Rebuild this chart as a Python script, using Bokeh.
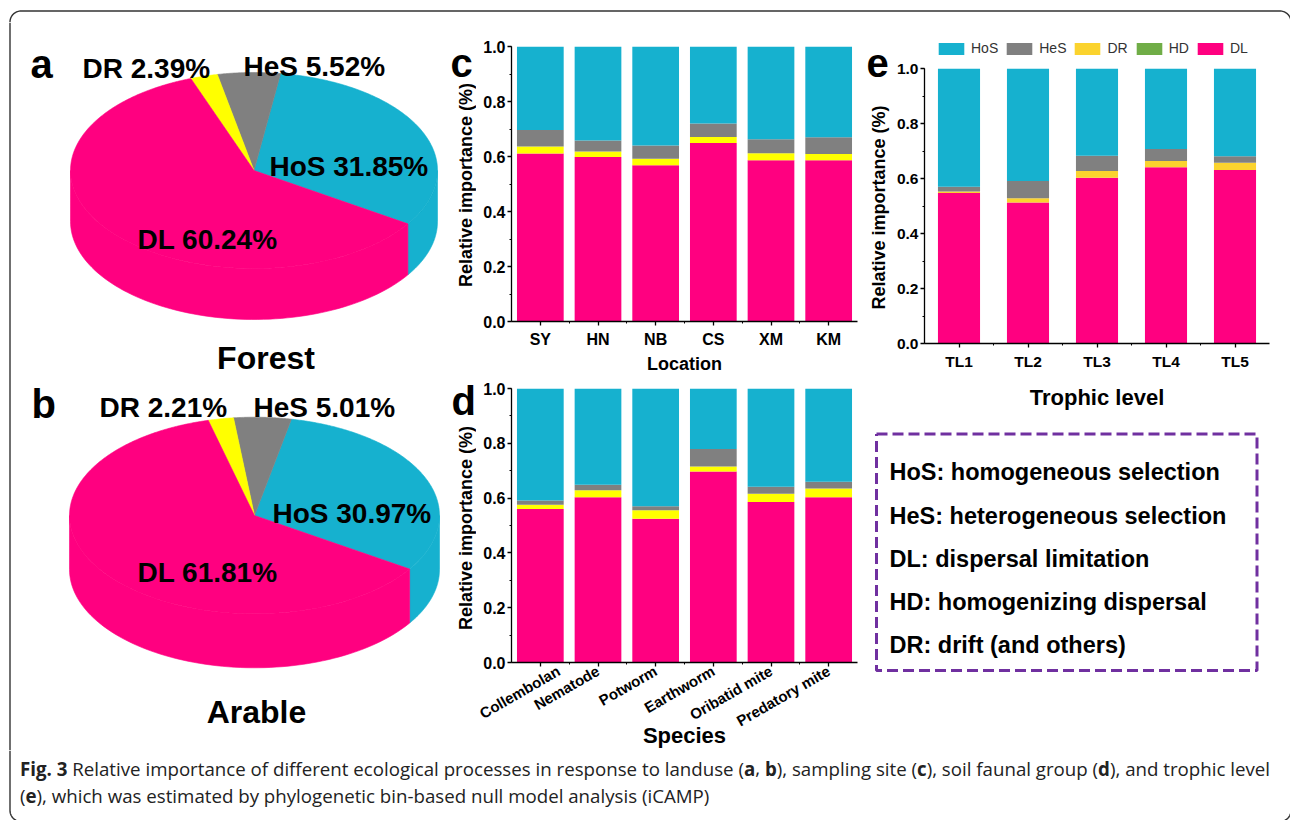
import glob
import math
import os
import subprocess

import numpy as np
from bokeh.core.properties import value
from bokeh.embed import file_html
from bokeh.layouts import column, row
from bokeh.models import (ColumnDataSource, FixedTicker, Legend, LegendItem,
                          NumeralTickFormatter, Range1d, SingleIntervalTicker)
from bokeh.plotting import figure
from bokeh.resources import INLINE

# ---------------------------------------------------------------- data
processes = ["DL", "DR", "HD", "HeS", "HoS"]          # stacking order, bottom to top

pie_names = ["HoS", "HeS", "DR", "DL"]                # counter-clockwise order
forest_pct = [31.85, 5.52, 2.39, 60.24]
arable_pct = [30.97, 5.01, 2.21, 61.81]

locations = ["SY", "HN", "NB", "CS", "XM", "KM"]
loc_DL = [0.611, 0.598, 0.568, 0.649, 0.586, 0.586]
loc_DR = [0.025, 0.020, 0.024, 0.022, 0.026, 0.023]
loc_HD = [0.0, 0.0, 0.0, 0.0, 0.0, 0.0]
loc_HeS = [0.060, 0.040, 0.048, 0.049, 0.051, 0.061]
loc_HoS = [0.304, 0.342, 0.360, 0.280, 0.337, 0.330]

species = ["Collembolan", "Nematode", "Potworm", "Earthworm", "Oribatid mite", "Predatory mite"]
sp_DL = [0.560, 0.603, 0.525, 0.697, 0.586, 0.603]
sp_DR = [0.016, 0.026, 0.031, 0.018, 0.030, 0.032]
sp_HD = [0.0, 0.0, 0.0, 0.0, 0.0, 0.0]
sp_HeS = [0.015, 0.020, 0.014, 0.064, 0.025, 0.025]
sp_HoS = [0.409, 0.351, 0.430, 0.221, 0.359, 0.340]

trophic = ["TL1", "TL2", "TL3", "TL4", "TL5"]
tl_DL = [0.547, 0.513, 0.603, 0.641, 0.631]
tl_DR = [0.006, 0.015, 0.024, 0.023, 0.026]
tl_HD = [0.0, 0.0, 0.0, 0.0, 0.0]
tl_HeS = [0.017, 0.063, 0.056, 0.043, 0.024]
tl_HoS = [0.430, 0.409, 0.317, 0.293, 0.319]

legend_order = ["HoS", "HeS", "DR", "HD", "DL"]
glossary = ["HoS: homogeneous selection", "HeS: heterogeneous selection",
            "DL: dispersal limitation", "HD: homogenizing dispersal",
            "DR: drift (and others)"]

Y_TITLE = "Relative importance (%)"

caption_line1 = [("Fig. 3", True),
                 (" Relative importance of different ecological processes in response to landuse (", False),
                 ("a", True), (", ", False), ("b", True), ("), sampling site (", False),
                 ("c", True), ("), soil faunal group (", False), ("d", True),
                 ("), and trophic level", False)]
caption_line2 = [("(", False), ("e", True),
                 ("), which was estimated by phylogenetic bin-based null model analysis (iCAMP)", False)]

# ---------------------------------------------------------------- style
FONT = "Liberation Sans"
PINK = "#FF0080"
BLUE = "#16B1CF"
GRAY = "#808080"
YELLOW = "#FFFF00"
GOLD = "#FBD32E"
GREEN = "#70AD47"
PURPLE = "#7030A0"
FRAME = "#333333"

bar_colors = {"DL": PINK, "DR": YELLOW, "HD": GREEN, "HeS": GRAY, "HoS": BLUE}
bar_colors_e = {"DL": PINK, "DR": GOLD, "HD": GREEN, "HeS": GRAY, "HoS": BLUE}
pie_colors = {"HoS": BLUE, "HeS": GRAY, "DR": YELLOW, "DL": PINK}


def no_align(p):
    if "frame_align" in p.properties():
        p.frame_align = False
    return p


def canvas(width, height, x0, x1, y0, y1):
    """A bare figure whose data units are page pixels (y grows downwards)."""
    p = figure(width=width, height=height, x_range=Range1d(x0, x1), y_range=Range1d(y1, y0),
               toolbar_location=None, output_backend="svg", min_border=0,
               x_axis_location=None, y_axis_location=None)
    p.grid.visible = False
    p.outline_line_color = None
    p.background_fill_color = "white"
    p.border_fill_color = "white"
    return no_align(p)


def bold_text(p, x, y, txt, size, align="left", baseline="alphabetic", angle=0.0):
    p.text(x=[x], y=[y], text=[txt], text_font=value(FONT), text_font_style="bold",
           text_font_size=size, text_baseline=baseline, text_align=align,
           angle=angle, text_color="#000000")


def style_axes(p, tick_size):
    for ax in p.axis:
        ax.axis_line_color = "#000000"
        ax.axis_line_width = 1.3
        ax.major_tick_line_color = "#000000"
        ax.major_tick_line_width = 1.3
        ax.minor_tick_line_color = "#000000"
        ax.minor_tick_line_width = 1.0
        ax.major_tick_in = 0
        ax.major_tick_out = 4
        ax.minor_tick_in = 0
        ax.minor_tick_out = 2
        ax.major_label_text_font = FONT
        ax.major_label_text_font_style = "bold"
        ax.major_label_text_font_size = tick_size
        ax.major_label_text_color = "#000000"
        ax.axis_label_text_font = FONT
        ax.axis_label_text_font_style = "bold"
        ax.axis_label_text_color = "#000000"


def stacked_panel(cats, parts, colors, bar_width, width, height, borders, tick_size):
    n = len(cats)
    xs = [i + 0.5 for i in range(n)]
    data = {"x": xs}
    data.update(parts)
    src = ColumnDataSource(data)
    left, right, top, bottom = borders
    p = figure(width=width, height=height, x_range=Range1d(0, n), y_range=Range1d(0, 1),
               toolbar_location=None, output_backend="svg",
               min_border_left=left, min_border_right=right,
               min_border_top=top, min_border_bottom=bottom)
    no_align(p)
    rs = p.vbar_stack(processes, x="x", width=bar_width, source=src,
                      fill_color=[colors[k] for k in processes], line_color=None)
    p.grid.visible = False
    p.outline_line_color = None
    p.background_fill_color = "white"
    p.border_fill_color = "white"
    p.xaxis.ticker = FixedTicker(ticks=xs, minor_ticks=list(range(1, n)))
    p.xaxis.major_label_overrides = {x: c for x, c in zip(xs, cats)}
    p.yaxis.ticker = SingleIntervalTicker(interval=0.2, num_minor_ticks=2)
    p.yaxis.formatter = NumeralTickFormatter(format="0.0")
    style_axes(p, tick_size)
    p.yaxis.major_label_standoff = 2
    p.xaxis.major_label_standoff = 5
    return p, dict(zip(processes, rs))


# ---------------------------------------------------------------- pies (+ letters / y titles of c, d)
def draw_pie(p, names, pct, cx, cy, rx, ry, depth, start):
    total = float(sum(pct))
    bounds = start + np.concatenate([[0.0], np.cumsum(pct)]) / total * 360.0
    # side wall (front half of the disc)
    for i, name in enumerate(names):
        a0, a1 = bounds[i], bounds[i + 1]
        for lo, hi in [(-180.0, 0.0), (180.0, 360.0), (540.0, 720.0)]:
            s, e = max(a0, lo), min(a1, hi)
            if e > s:
                t = np.radians(np.linspace(s, e, 80))
                xt = cx + rx * np.cos(t)
                yt = cy - ry * np.sin(t)
                p.patch(np.concatenate([xt, xt[::-1]]), np.concatenate([yt, yt[::-1] + depth]),
                        fill_color=pie_colors[name], line_color=pie_colors[name], line_width=0.6)
    # top face
    for i, name in enumerate(names):
        a0, a1 = bounds[i], bounds[i + 1]
        t = np.radians(np.linspace(a0, a1, max(10, int((a1 - a0) * 2))))
        p.patch(np.concatenate([[cx], cx + rx * np.cos(t)]),
                np.concatenate([[cy], cy - ry * np.sin(t)]),
                fill_color=pie_colors[name], line_color=pie_colors[name], line_width=0.6)


pies = canvas(456, 728, 20, 476, 22, 750)
draw_pie(pies, pie_names, forest_pct, 253.5, 170, 183.5, 98, 51, -33)
draw_pie(pies, pie_names, arable_pct, 254, 515, 185, 98.3, 54, -33)

forest = dict(zip(pie_names, forest_pct))
arable = dict(zip(pie_names, arable_pct))
bold_text(pies, 30, 63, "a", "40px")
bold_text(pies, 82, 68, f"DR {forest['DR']:.2f}%", "28px")
bold_text(pies, 243, 66, f"HeS {forest['HeS']:.2f}%", "28px")
bold_text(pies, 269, 166, f"HoS {forest['HoS']:.2f}%", "28px")
bold_text(pies, 137, 239, f"DL {forest['DL']:.2f}%", "28px")
bold_text(pies, 265.5, 357, "Forest", "32px", "center")

bold_text(pies, 31, 403, "b", "40px")
bold_text(pies, 99, 407, f"DR {arable['DR']:.2f}%", "28px")
bold_text(pies, 253, 407, f"HeS {arable['HeS']:.2f}%", "28px")
bold_text(pies, 272, 513, f"HoS {arable['HoS']:.2f}%", "28px")
bold_text(pies, 137, 572, f"DL {arable['DL']:.2f}%", "28px")
bold_text(pies, 256, 711, "Arable", "32px", "center")

# letters and vertical titles sitting left of panels c and d
bold_text(pies, 450, 62, "c", "40px")
bold_text(pies, 465, 184.5, Y_TITLE, "18px", "center", "middle", math.pi / 2)
bold_text(pies, 451, 400, "d", "40px")
bold_text(pies, 465, 527.5, Y_TITLE, "18px", "center", "middle", math.pi / 2)

# ---------------------------------------------------------------- panel c
pc, _ = stacked_panel(locations,
                      {"DL": loc_DL, "DR": loc_DR, "HD": loc_HD, "HeS": loc_HeS, "HoS": loc_HoS},
                      bar_colors, 0.81, 389, 354, (35, 8, 24, 53), "16px")
pc.xaxis.axis_label = "Location"
pc.xaxis.axis_label_text_font_size = "18px"
pc.xaxis.axis_label_standoff = 3

# ---------------------------------------------------------------- panel d
pd_, _ = stacked_panel(species,
                       {"DL": sp_DL, "DR": sp_DR, "HD": sp_HD, "HeS": sp_HeS, "HoS": sp_HoS},
                       bar_colors, 0.81, 389, 374, (35, 8, 12, 83), "16px")
pd_.xaxis.major_label_orientation = math.pi / 6
pd_.xaxis.major_label_text_font_size = "15px"
pd_.xaxis.major_label_standoff = 3
pd_.xaxis.axis_label = "Species"
pd_.xaxis.axis_label_text_font_size = "22px"
pd_.xaxis.axis_label_standoff = -17

# ---------------------------------------------------------------- panel e
pe, _ = stacked_panel(trophic,
                      {"DL": tl_DL, "DR": tl_DR, "HD": tl_HD, "HeS": tl_HeS, "HoS": tl_HoS},
                      bar_colors_e, 0.61, 380, 351, (34, 1, 7, 66), "15.5px")
pe.xaxis.axis_label = "Trophic level"
pe.xaxis.axis_label_text_font_size = "22px"
pe.xaxis.axis_label_standoff = 12

# letter and vertical title left of panel e
e_side = canvas(25, 390, 865, 890, 22, 412)
bold_text(e_side, 866, 62, "e", "40px")
bold_text(e_side, 878, 207, Y_TITLE, "18px", "center", "middle", math.pi / 2)

# colour key above panel e
e_head = canvas(380, 39, 890, 1270, 22, 61)
key_renderers = {k: e_head.vbar(x=[900], top=[30], bottom=[30], width=0.0,
                                fill_color=bar_colors_e[k], line_color=None)
                 for k in legend_order}
legend = Legend(items=[LegendItem(label=k, renderers=[key_renderers[k]]) for k in legend_order],
                orientation="horizontal", location=(45, 5),
                glyph_width=32, glyph_height=15, label_standoff=4, spacing=5,
                padding=0, margin=0, label_height=15, label_width=10,
                label_text_font=FONT, label_text_font_size="14px", label_text_color="#333333",
                background_fill_alpha=0, border_line_alpha=0)
e_head.add_layout(legend)

# ---------------------------------------------------------------- glossary box
box = canvas(405, 338, 865, 1270, 412, 750)
box.line(x=[876, 1256.5, 1256.5, 876, 876], y=[433.5, 433.5, 670, 670, 433.5],
         line_color=PURPLE, line_width=3, line_dash="11 5")
for i, entry in enumerate(glossary):
    bold_text(box, 889, 471.7 + i * 43.3, entry, "23.5px", "left", "middle")

# ---------------------------------------------------------------- outer frame
R = 11.0
LEFT, TOP, RIGHT, BOTTOM = 9.5, 10.5, 1290.5, 821.0


def arc(cx, cy, a0, a1):
    t = np.radians(np.linspace(a0, a1, 20))
    return cx + R * np.cos(t), cy - R * np.sin(t)


top = canvas(1290, 22, 0, 1290, 0, 22)
ax1, ay1 = arc(LEFT + R, TOP + R, 180, 90)
ax2, ay2 = arc(RIGHT - R, TOP + R, 90, 0)
top.line(np.concatenate([[LEFT], ax1, ax2, [RIGHT]]), np.concatenate([[22], ay1, ay2, [22]]),
         line_color=FRAME, line_width=1.4)

left_strip = canvas(20, 728, 0, 20, 22, 750)
left_strip.line([LEFT, LEFT], [22, 750], line_color=FRAME, line_width=1.4)
right_strip = canvas(20, 728, 1270, 1290, 22, 750)

cap = canvas(1290, 70, 0, 1290, 750, 820)
bx1, by1 = arc(LEFT + R, BOTTOM - R, 180, 270)
bx2, by2 = arc(RIGHT - R, BOTTOM - R, 270, 360)
cap.line(np.concatenate([[LEFT], bx1, bx2, [RIGHT]]), np.concatenate([[750], by1, by2, [750]]),
         line_color=FRAME, line_width=1.4)


# caption text, laid out run by run with measured advance widths
def find_font_file(pattern, name_keys):
    try:
        out = subprocess.run(["fc-match", "-f", "%{file}", pattern], capture_output=True,
                             text=True, timeout=10).stdout.strip()
        if out and os.path.exists(out) and "opensans" in os.path.basename(out).lower().replace(" ", ""):
            return out
    except Exception:
        pass
    files = []
    for root in ("/usr/share/fonts", "/usr/local/share/fonts", os.path.expanduser("~/.fonts"),
                 os.path.expanduser("~/.local/share/fonts")):
        files += glob.glob(os.path.join(root, "**", "*.[ot]tf"), recursive=True)
    for key in name_keys:
        for f in files:
            name = os.path.basename(f).lower().replace(" ", "")
            if key in name and "italic" not in name and "condensed" not in name:
                return f
    return None


def make_measure(pattern, keys, bold):
    try:
        from PIL import ImageFont
        path = find_font_file(pattern, keys)
        if path:
            f = ImageFont.truetype(path, 100)
            if bold and "bold" not in os.path.basename(path).lower():
                try:
                    f.set_variation_by_name("Bold")
                except Exception:
                    pass
            return lambda s, size: f.getlength(s) * size / 100.0
    except Exception:
        pass
    avg = 0.50 if bold else 0.445
    return lambda s, size: len(s) * avg * size


meas = {False: make_measure("Open Sans:regular",
                            ["opensans-regular.", "opensans[", "opensans-variable", "opensans.ttf"], False),
        True: make_measure("Open Sans:bold",
                           ["opensans-bold.", "opensans[", "opensans-variable", "opensans.ttf"], True)}
line1_width = sum(meas[b](t, 1.0) for t, b in caption_line1)
CAP_SIZE = min(21.0, max(13.0, 1250.0 / line1_width))


def draw_runs(p, runs, x0, y):
    x = x0
    for txt, bold in runs:
        lead = len(txt) - len(txt.lstrip(" "))
        core = txt.strip(" ")
        if core:
            p.text(x=[x + meas[bold](" " * lead, CAP_SIZE)], y=[y], text=[core],
                   text_font=value("Open Sans"), text_font_style="bold" if bold else "normal",
                   text_font_size=f"{CAP_SIZE:.2f}px", text_baseline="alphabetic",
                   text_align="left", text_color="#222222")
        x += meas[bold](txt, CAP_SIZE)


draw_runs(cap, caption_line1, 19.5, 768)
draw_runs(cap, caption_line2, 19.5, 795)

# ---------------------------------------------------------------- layout
layout = column(top,
                row(left_strip, pies, column(pc, pd_),
                    column(row(e_side, column(e_head, pe)), box), right_strip),
                cap)

with open("out.html", "w") as fh:
    fh.write(file_html(layout, INLINE))
